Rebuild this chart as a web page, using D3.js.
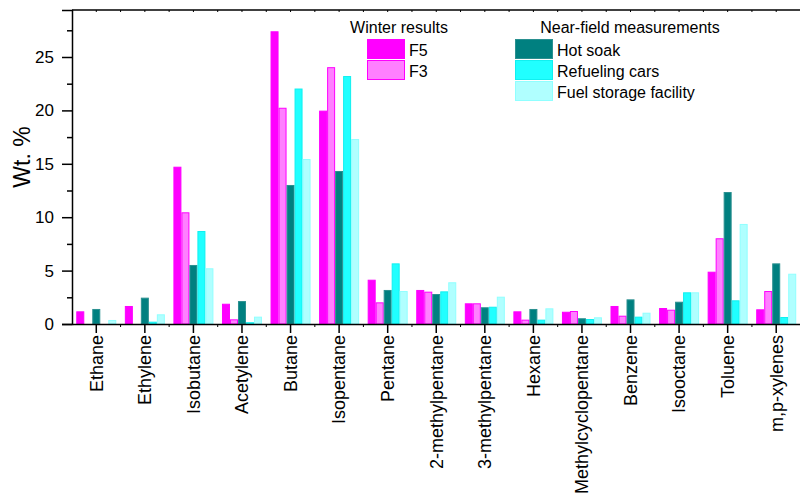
<!DOCTYPE html>
<meta charset="utf-8">
<script src="https://d3js.org/d3.v7.min.js"></script>
<style>
  body { margin: 0; background: #fff; }
  text { font-family: "Liberation Sans", Arial, sans-serif; fill: #000; }
</style>
<div id="chart"></div>
<script>

// compounds on the x axis
var categories = ["Ethane", "Ethylene", "Isobutane", "Acetylene", "Butane", "Isopentane",
  "Pentane", "2-methylpentane", "3-methylpentane", "Hexane", "Methylcyclopentane",
  "Benzene", "Isooctane", "Toluene", "m,p-xylenes"];

// Wt. % per compound
var f5          = [1.14, 1.64, 14.68, 1.85, 27.36, 19.93, 4.10, 3.14, 1.89, 1.14, 1.10, 1.64, 1.45, 4.85, 1.33];
var f3          = [0.00, 0.00, 10.41, 0.39, 20.20, 24.00, 1.98, 2.98, 1.89, 0.36, 1.17, 0.73, 1.29, 7.98, 3.04];
var hotSoak     = [1.36, 2.42, 5.48, 2.10, 12.97, 14.28, 3.14, 2.76, 1.52, 1.36, 0.49, 2.26, 2.04, 12.31, 5.63];
var refueling   = [0.00, 0.17, 8.66, 0.12, 22.00, 23.17, 5.63, 3.01, 1.57, 0.36, 0.42, 0.64, 2.92, 2.17, 0.61];
var fuelStorage = [0.33, 0.86, 5.17, 0.64, 15.40, 17.27, 3.04, 3.86, 2.51, 1.42, 0.58, 1.01, 2.92, 9.32, 4.66];

var yMajor = [0, 5, 10, 15, 20, 25];
var yMinor = [2.5, 7.5, 12.5, 17.5, 22.5, 27.5];

var series = [
  {key: "F5", values: f5, fill: "#ff00ff", stroke: "#ff00ff"},
  {key: "F3", values: f3, fill: "#ff80ff", stroke: "#ff00ff"},
  {key: "Hot soak", values: hotSoak, fill: "#008080", stroke: "#2a9090"},
  {key: "Refueling cars", values: refueling, fill: "#20ffff", stroke: "#10f0f0"},
  {key: "Fuel storage facility", values: fuelStorage, fill: "#b0ffff", stroke: "#90ffff"}
];

var W = 800, H = 503;
var margin = {top: 10, right: -0.5, bottom: 179, left: 72};
var width = W - margin.left - margin.right,
    height = H - margin.top - margin.bottom;

var svg = d3.select("#chart").append("svg")
    .attr("width", W)
    .attr("height", H)
  .append("g")
    .attr("transform", "translate(" + margin.left + "," + margin.top + ")");

var x0 = d3.scaleBand().domain(categories).range([0, width]).padding(0);
var gp = (x0.step() - 40) / 2;
var x1 = d3.scaleBand().domain(series.map(function(s) { return s.key; }))
    .range([gp, x0.step() - gp]).padding(0);

var y = d3.scaleLinear().domain([0, 29.4]).range([height, 0]);

// bars
var groups = svg.selectAll("g.grp")
  .data(categories)
  .enter().append("g")
    .attr("class", "grp")
    .attr("transform", function(d) { return "translate(" + x0(d) + ",0)"; });

groups.selectAll("rect")
  .data(function(d, i) {
    return series.map(function(s) { return {s: s, v: s.values[i]}; });
  })
  .enter().append("rect")
    .filter(function(d) { return d.v > 0; })
    .attr("x", function(d) { return x1(d.s.key) + 0.5; })
    .attr("y", function(d) { return y(d.v); })
    .attr("width", x1.bandwidth() - 1)
    .attr("height", function(d) { return height - y(d.v); })
    .attr("fill", function(d) { return d.s.fill; })
    .attr("stroke", function(d) { return d.s.stroke; })
    .attr("stroke-width", 1);

// left axis
svg.append("g")
    .call(d3.axisLeft(y).tickValues(yMajor).tickSize(10).tickPadding(8).tickFormat(d3.format("d")))
    .call(function(g) { g.selectAll("text").style("font-size", "17px"); })
    .call(function(g) { g.selectAll("line, path").attr("stroke-width", 1.5); });
svg.append("g")
    .call(d3.axisLeft(y).tickValues(yMinor).tickSize(5).tickFormat(""))
    .call(function(g) { g.select("path").remove(); g.selectAll("line").attr("stroke-width", 1.5); });

// right axis, ticks pointing in
svg.append("g")
    .attr("transform", "translate(" + width + ",0)")
    .call(d3.axisLeft(y).tickValues(yMajor).tickSize(-7).tickFormat(""))
    .call(function(g) { g.select("path").remove(); g.selectAll("line").attr("stroke-width", 1.5); });
svg.append("g")
    .attr("transform", "translate(" + width + ",0)")
    .call(d3.axisLeft(y).tickValues(yMinor).tickSize(-4).tickFormat(""))
    .call(function(g) { g.select("path").remove(); g.selectAll("line").attr("stroke-width", 1.5); });

// bottom axis
var xb = svg.append("g")
    .attr("transform", "translate(0," + height + ")")
    .call(d3.axisBottom(x0).tickSize(9).tickPadding(2).tickSizeOuter(0));
xb.selectAll("line, path").attr("stroke-width", 1.5);
xb.selectAll("text")
    .style("font-size", "18px")
    .attr("transform", "rotate(-90)")
    .attr("x", -11)
    .attr("y", 0)
    .attr("dy", "0.35em")
    .style("text-anchor", "end");

// boundary minor ticks on bottom
svg.append("g").selectAll("line")
  .data(categories.slice(1))
  .enter().append("line")
    .attr("x1", function(d) { return x0(d); })
    .attr("x2", function(d) { return x0(d); })
    .attr("y1", height)
    .attr("y2", height + 3)
    .attr("stroke", "#000")
    .attr("stroke-width", 1);

// top axis
svg.append("line")
    .attr("x1", 0).attr("x2", width).attr("y1", 0).attr("y2", 0)
    .attr("stroke", "#000").attr("stroke-width", 1.5);
var topTicks = [];
categories.forEach(function(c) { topTicks.push(x0(c)); topTicks.push(x0(c) + x0.bandwidth() / 2); });
svg.append("g").selectAll("line")
  .data(topTicks.slice(1))
  .enter().append("line")
    .attr("x1", function(d) { return d; })
    .attr("x2", function(d) { return d; })
    .attr("y1", 0)
    .attr("y2", 2)
    .attr("stroke", "#000")
    .attr("stroke-width", 1);

// y label
svg.append("text")
    .attr("transform", "rotate(-90)")
    .attr("x", -(height / 2) + 10)
    .attr("y", -42)
    .attr("text-anchor", "middle")
    .style("font-size", "23px")
    .text("Wt. %");

// legends
function legend(title, items, tx, sx, lx) {
  svg.append("text")
      .attr("x", tx - margin.left)
      .attr("y", 33 - margin.top)
      .attr("text-anchor", "middle")
      .style("font-size", "16px")
      .text(title);
  items.forEach(function(s, i) {
    var yy = 39.5 + i * 21 - margin.top;
    svg.append("rect")
        .attr("x", sx - margin.left)
        .attr("y", yy)
        .attr("width", 37)
        .attr("height", 19)
        .attr("fill", s.fill)
        .attr("stroke", s.stroke);
    svg.append("text")
        .attr("x", lx - margin.left)
        .attr("y", yy + 16)
        .style("font-size", "16px")
        .text(s.key);
  });
}
legend("Winter results", series.slice(0, 2), 399, 367.5, 409);
legend("Near-field measurements", series.slice(2), 630, 515.5, 557);

</script>
